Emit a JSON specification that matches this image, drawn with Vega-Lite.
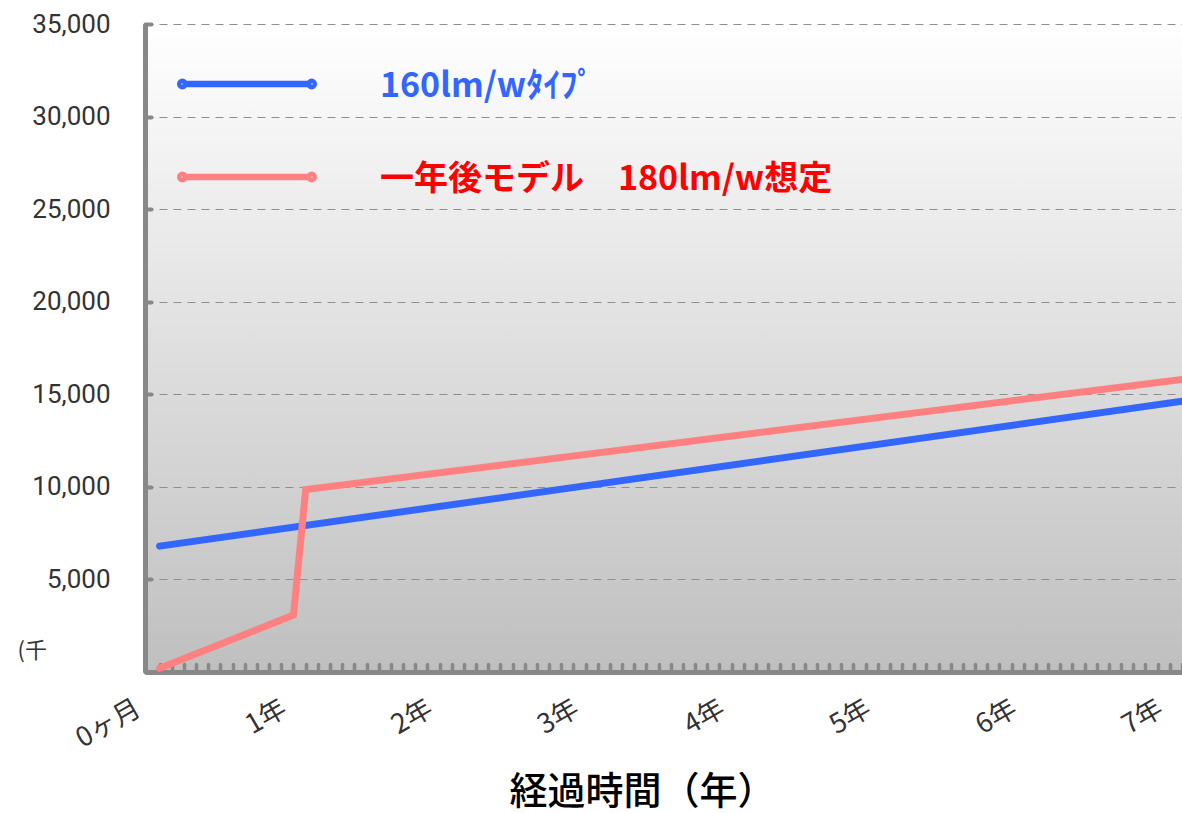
{
  "$schema": "https://vega.github.io/schema/vega-lite/v6.json",
  "width": 1037,
  "height": 648,
  "autosize": {"type": "none"},
  "padding": {"left": 145, "top": 24, "right": 0, "bottom": 141},
  "background": "#ffffff",
  "view": {
    "stroke": null,
    "fill": {
      "gradient": "linear",
      "x1": 0, "y1": 0, "x2": 0, "y2": 1,
      "stops": [
        {"offset": 0, "color": "#ffffff"},
        {"offset": 1, "color": "#bfbfbf"}
      ]
    }
  },
  "config": {"font": "Noto Sans CJK JP"},
  "data": {
    "values": [
      {"month": 0, "value": 6800, "series": "160lm/wﾀｲﾌﾟ"},
      {"month": 84, "value": 14620, "series": "160lm/wﾀｲﾌﾟ"},
      {"month": 0, "value": 200, "series": "一年後モデル　180lm/w想定"},
      {"month": 11, "value": 3080, "series": "一年後モデル　180lm/w想定"},
      {"month": 12, "value": 9850, "series": "一年後モデル　180lm/w想定"},
      {"month": 84, "value": 15800, "series": "一年後モデル　180lm/w想定"}
    ]
  },
  "mark": {"type": "line", "strokeWidth": 7, "strokeCap": "round", "strokeJoin": "miter"},
  "encoding": {
    "x": {
      "field": "month",
      "type": "quantitative",
      "scale": {"domain": [-1.2, 84], "nice": false, "zero": false},
      "axis": {
        "values": [0,1,2,3,4,5,6,7,8,9,10,11,12,13,14,15,16,17,18,19,20,21,22,23,24,25,26,27,28,29,30,31,32,33,34,35,36,37,38,39,40,41,42,43,44,45,46,47,48,49,50,51,52,53,54,55,56,57,58,59,60,61,62,63,64,65,66,67,68,69,70,71,72,73,74,75,76,77,78,79,80,81,82,83,84],
        "labelExpr": "datum.value == 0 ? '0ヶ月' : (datum.value % 12 == 0 ? (datum.value / 12) + '年' : '')",
        "labelAngle": -30,
        "labelAlign": "right",
        "labelBaseline": "top",
        "labelFontSize": 27,
        "labelColor": "#333333",
        "labelFont": "Noto Sans CJK JP",
        "labelFlush": false,
        "labelOverlap": false,
        "labelOffset": -28,
        "labelPadding": 31,
        "tickSize": -8,
        "tickWidth": 3.5,
        "tickColor": "#888888",
        "tickCap": "round",
        "domainColor": "#888888",
        "domainWidth": 5,
        "grid": false,
        "title": "経過時間（年）",
        "titleFont": "Noto Sans CJK JP",
        "titleFontSize": 38,
        "titleFontWeight": 500,
        "titleColor": "#000000",
        "titleX": 497,
        "titleY": 120,
        "titleAlign": "center",
        "titleBaseline": "middle"
      }
    },
    "y": {
      "field": "value",
      "type": "quantitative",
      "scale": {"domain": [0, 35000], "nice": false},
      "axis": {
        "values": [0, 5000, 10000, 15000, 20000, 25000, 30000, 35000],
        "labelExpr": "datum.value == 0 ? '' : format(datum.value, ',')",
        "labelFont": "Roboto",
        "labelFontSize": 26,
        "labelColor": "#333333",
        "labelPadding": 41,
        "tickSize": -6,
        "tickWidth": 4,
        "tickCap": "round",
        "tickColor": "#888888",
        "domainColor": "#888888",
        "domainWidth": 5,
        "grid": true,
        "gridColor": "#8f8f8f",
        "gridDash": [8, 6],
        "gridWidth": 1.2,
        "title": "(千",
        "titleAngle": 0,
        "titleX": -128,
        "titleY": 626,
        "titleAlign": "left",
        "titleBaseline": "middle",
        "titleFont": "Noto Sans CJK JP",
        "titleFontSize": 22,
        "titleFontWeight": "normal",
        "titleColor": "#333333"
      }
    },
    "color": {
      "field": "series",
      "type": "nominal",
      "scale": {
        "domain": ["160lm/wﾀｲﾌﾟ", "一年後モデル　180lm/w想定"],
        "range": ["#3366ff", "#ff8080"]
      },
      "legend": {
        "orient": "none",
        "legendX": 28.5,
        "legendY": 13.5,
        "title": null,
        "direction": "vertical",
        "padding": 0,
        "symbolType": "M-0.923,0L0.923,0M-0.8915,0A0.0315,0.0315 0 1,0 -0.9545,0A0.0315,0.0315 0 1,0 -0.8915,0ZM0.9545,0A0.0315,0.0315 0 1,0 0.8915,0A0.0315,0.0315 0 1,0 0.9545,0Z",
        "symbolSize": 19600,
        "symbolStrokeWidth": 6.5,
        "clipHeight": 93,
        "rowPadding": 0,
        "labelFont": "Noto Sans CJK JP",
        "labelFontSize": 34,
        "labelFontWeight": "bold",
        "labelOffset": 59.5,
        "labelLimit": 0,
        "encode": {
          "labels": {
            "update": {
              "fill": {"signal": "datum.value === '160lm/wﾀｲﾌﾟ' ? '#3366ff' : '#ff0000'"},
              "dy": {"value": 3}
            }
          }
        }
      }
    }
  }
}
